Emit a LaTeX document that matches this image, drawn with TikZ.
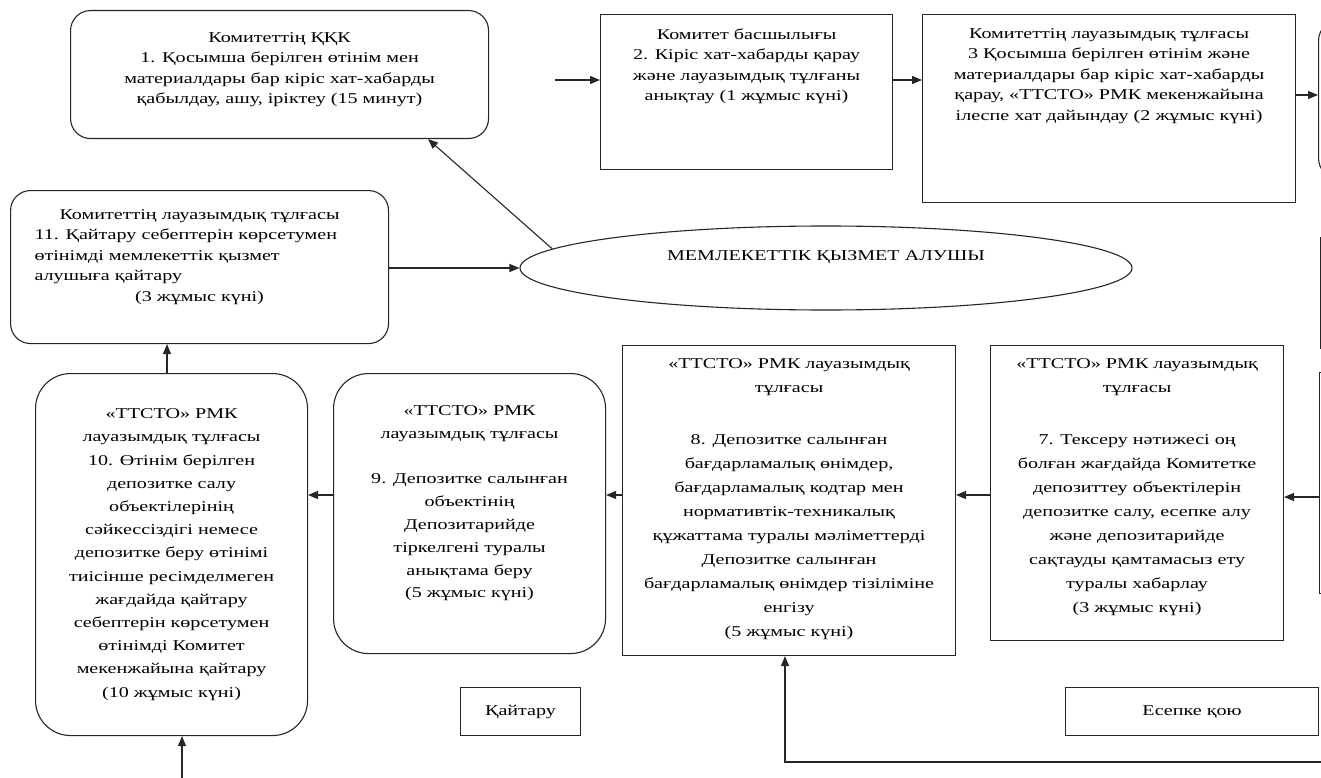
\documentclass[tikz,border=0pt]{standalone}
\usepackage{fontspec}
\setmainfont[FakeStretch=1.34]{Liberation Serif}
\usetikzlibrary{arrows.meta,shapes.geometric}
\newcommand{\ftop}{\fontsize{15}{20.5}\selectfont}
\newcommand{\fbot}{\fontsize{15}{22.8}\selectfont}
% #1 width, #2 height, #3 inner vertical position, #4 top pad, #5 text
\newcommand{\tb}[5]{\parbox[c][#2][#3]{#1}{\centering\vspace*{#4}#5\par}}
\begin{document}
\begin{tikzpicture}[x=1pt,y=-1pt,
  box/.style={draw=black!85, line width=1.1pt, inner sep=0pt, anchor=north west, fill=white},
  rbox/.style={box, rounded corners=20pt},
  rrbox/.style={box, rounded corners=35pt},
  arr/.style={draw=black!85, line width=1.1pt, -{Triangle[length=10pt,width=8pt]}}]
\fill[white] (0,0) rectangle (1321,778);
\useasboundingbox (0,0) rectangle (1321,778);
\clip (0,0) rectangle (1321,778);

% top row
\node[rbox] (b1) at (70,10) {\ftop\tb{418pt}{128pt}{t}{22pt}{Комитеттің ҚҚК\\ 1. Қосымша берілген өтінім мен\\ материалдары бар кіріс хат-хабарды\\ қабылдау, ашу, іріктеу (15 минут)}};
\node[box] (b2) at (600,14) {\ftop\tb{292pt}{155pt}{t}{14pt}{Комитет басшылығы\\ 2. Кіріс хат-хабарды қарау\\ және лауазымдық тұлғаны\\ анықтау (1 жұмыс күні)}};
\node[box] (b3) at (922,14) {\ftop\tb{373pt}{188pt}{t}{14pt}{Комитеттің лауазымдық тұлғасы\\ 3 Қосымша берілген өтінім және\\ материалдары бар кіріс хат-хабарды\\ қарау, «ТТСТО» РМК мекенжайына\\ ілеспе хат дайындау (2 жұмыс күні)}};
\node[rbox, minimum width=200pt, minimum height=158pt] (r1) at (1318,20) {};

% middle
\node[draw=black!85, line width=1.1pt, ellipse, minimum width=612pt, minimum height=84pt, inner sep=0pt] (ell) at (826,268) {};
\node[inner sep=0pt] (ellt) at (826,257) {\ftop МЕМЛЕКЕТТІК ҚЫЗМЕТ АЛУШЫ};
\node[box, minimum width=200pt, minimum height=111pt] (r2) at (1320,237) {};
\node[rbox] (b11) at (10,190) {\ftop\parbox[c][153pt][t]{378pt}{\vspace*{19pt}\centering Комитеттің лауазымдық тұлғасы\par
  \raggedright\leftskip=24pt 11. Қайтару себептерін көрсетумен\\ өтінімді мемлекеттік қызмет\\ алушыға қайтару\par
  \centering (3 жұмыс күні)\par}};

% bottom row
\node[rrbox] (b10) at (35,373) {\fontsize{15}{23.2}\selectfont\tb{272pt}{362pt}{c}{0pt}{«ТТСТО» РМК\\ лауазымдық тұлғасы\\ 10. Өтінім берілген\\ депозитке салу\\ объектілерінің\\ сәйкессіздігі немесе\\ депозитке беру өтінімі\\ тиісінше ресімделмеген\\ жағдайда қайтару\\ себептерін көрсетумен\\ өтінімді Комитет\\ мекенжайына қайтару\\ (10 жұмыс күні)}};
\node[rrbox] (b9) at (333,373) {\fbot\tb{272pt}{280pt}{t}{32pt}{«ТТСТО» РМК\\ лауазымдық тұлғасы\\[22.8pt] 9. Депозитке салынған\\ объектінің\\ Депозитарийде\\ тіркелгені туралы\\ анықтама беру\\ (5 жұмыс күні)}};
\node[box] (b8) at (622,345) {\fontsize{15}{24}\selectfont\tb{333pt}{310pt}{t}{13pt}{«ТТСТО» РМК лауазымдық\\ тұлғасы\\[28pt] 8. Депозитке салынған\\ бағдарламалық өнімдер,\\ бағдарламалық кодтар мен\\ нормативтік-техникалық\\ құжаттама туралы мәліметтерді\\ Депозитке салынған\\ бағдарламалық өнімдер тізіліміне\\ енгізу\\ (5 жұмыс күні)}};
\node[box] (b7) at (990,345) {\fontsize{15}{24}\selectfont\tb{293pt}{295pt}{t}{13pt}{«ТТСТО» РМК лауазымдық\\ тұлғасы\\[28pt] 7. Тексеру нәтижесі оң\\ болған жағдайда Комитетке\\ депозиттеу объектілерін\\ депозитке салу, есепке алу\\ және депозитарийде\\ сақтауды қамтамасыз ету\\ туралы хабарлау\\ (3 жұмыс күні)}};
\node[box, minimum width=200pt, minimum height=221pt] (r3) at (1319,372) {};
\node[box, minimum width=120pt, minimum height=48pt] (kt) at (460,687) {\ftop Қайтару};
\node[box, minimum width=253pt, minimum height=48pt] (ek) at (1065,687) {\ftop Есепке қою};

% connectors
\coordinate (in1) at (555,80);
\coordinate (bin) at (182,790);
\coordinate (bs) at (1340,762);
\draw[arr] (in1) -- (in1 -| b2.west);
\draw[arr] (b2.east |- in1) -- (b3.west |- in1);
\draw[arr] (b3.east |- 0,95) -- (r1.west |- 0,95);
\draw[arr] (ell.176) -- (428,0 |- b1.south);
\draw[arr] (b11.east |- ell.west) -- (ell.west);
\draw[arr] (167,0 |- b10.north) -- (167,0 |- b11.south);
\draw[arr] (bin) -- (bin |- b10.south);
\draw[arr] (b9.west |- 0,495) -- (b10.east |- 0,495);
\draw[arr] (b8.west |- 0,495) -- (b9.east |- 0,495);
\draw[arr] (b7.west |- 0,495) -- (b8.east |- 0,495);
\draw[arr] (r3.west |- 0,497) -- (b7.east |- 0,497);
\draw[arr] (bs) -| (785,0 |- b8.south);
\end{tikzpicture}
\end{document}
